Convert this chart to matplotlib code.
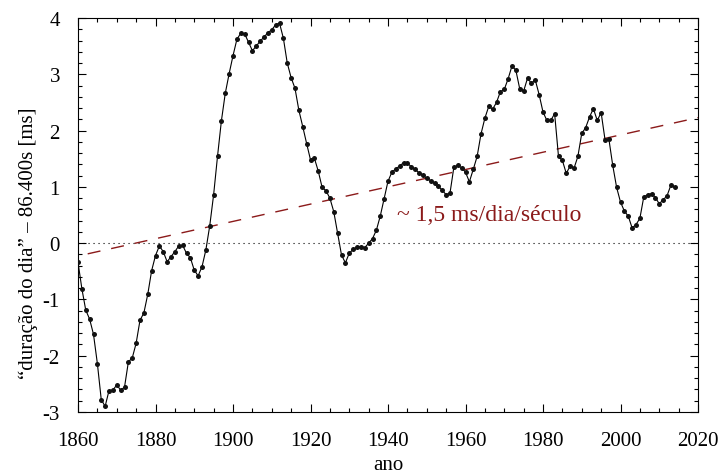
import matplotlib
matplotlib.use("Agg")
import matplotlib.pyplot as plt
from matplotlib.ticker import MultipleLocator
import numpy as np

# dados: excesso da duracao do dia (ms), anual
anos = np.arange(1860, 2015)
lod = [
    -0.34, -0.81, -1.19, -1.35, -1.62, -2.14, -2.78, -2.90, -2.62, -2.61,   # 1860
    -2.52, -2.61, -2.56, -2.11, -2.04, -1.78, -1.37, -1.24, -0.91, -0.49,   # 1870
    -0.22, -0.05, -0.15, -0.33, -0.24, -0.15, -0.05, -0.04, -0.18, -0.26,   # 1880
    -0.48, -0.58, -0.42, -0.12, 0.31, 0.86, 1.54, 2.17, 2.66, 3.01,         # 1890
    3.33, 3.62, 3.73, 3.72, 3.57, 3.42, 3.50, 3.59, 3.66, 3.74,             # 1900
    3.79, 3.88, 3.91, 3.64, 3.20, 2.94, 2.75, 2.36, 2.07, 1.77,             # 1910
    1.48, 1.51, 1.28, 0.99, 0.93, 0.80, 0.56, 0.18, -0.21, -0.35,           # 1920
    -0.18, -0.11, -0.07, -0.06, -0.08, 0.00, 0.08, 0.23, 0.48, 0.79,        # 1930
    1.10, 1.26, 1.32, 1.37, 1.43, 1.42, 1.36, 1.31, 1.25, 1.21,             # 1940
    1.15, 1.11, 1.07, 1.01, 0.94, 0.86, 0.89, 1.35, 1.38, 1.34,             # 1950
    1.26, 1.09, 1.31, 1.54, 1.94, 2.22, 2.43, 2.38, 2.50, 2.69,             # 1960
    2.73, 2.92, 3.15, 3.07, 2.74, 2.70, 2.93, 2.84, 2.90, 2.64,             # 1970
    2.33, 2.18, 2.18, 2.30, 1.54, 1.47, 1.24, 1.37, 1.33, 1.54,             # 1980
    1.95, 2.05, 2.24, 2.39, 2.18, 2.32, 1.84, 1.85, 1.38, 0.99,             # 1990
    0.73, 0.57, 0.48, 0.27, 0.33, 0.44, 0.82, 0.86, 0.88, 0.81,             # 2000
    0.70, 0.77, 0.84, 1.03, 0.99,                                           # 2010
]

# tendencia ~1,5 ms/dia/seculo
trend_x = [1862.5, 2020]
trend_y = [-0.19, 2.23]

xticks = [1860, 1880, 1900, 1920, 1940, 1960, 1980, 2000, 2020]
yticks = [-3, -2, -1, 0, 1, 2, 3, 4]

plt.rcParams['font.family'] = ['Liberation Serif', 'DejaVu Serif']

fig = plt.figure(figsize=(7.2, 4.77), dpi=100)
ax = fig.add_axes([78/720, 1 - 413/477, 620/720, 394/477])

darkred = '#8b1a1a'

ax.axhline(0, color='black', lw=0.8, linestyle=(0, (1, 3.5)), zorder=1)
ax.plot(trend_x, trend_y, color=darkred, lw=1.0, linestyle=(0, (9.4, 7.9)), zorder=2)
ax.plot(anos, lod, '-', color='black', lw=0.8, zorder=3)
ax.plot(anos, lod, 'o', color='#111111', ms=3.6, mew=0, zorder=4)

ax.text(1942.2, 0.41, '~ 1,5 ms/dia/século', color=darkred, fontsize=17,
        ha='left', va='baseline')

ax.set_xlim(1860, 2020)
ax.set_ylim(-3, 4)
ax.set_xticks(xticks)
ax.set_yticks(yticks)
ax.set_yticklabels([str(v) for v in yticks])
ax.xaxis.set_minor_locator(MultipleLocator(5))
ax.yaxis.set_minor_locator(MultipleLocator(0.2))
ax.tick_params(which='both', direction='in', top=True, right=True, labelsize=15)
ax.tick_params(which='major', length=5.8, width=0.8)
ax.tick_params(which='minor', length=3.1, width=0.8)
ax.tick_params(axis='x', pad=14)
ax.tick_params(axis='y', pad=13)
for s in ax.spines.values():
    s.set_linewidth(0.8)

ax.set_xlabel('ano', fontsize=15, labelpad=3)
ax.set_ylabel('“duração do dia” – 86.400s [ms]', fontsize=15)
ax.yaxis.set_label_coords(-0.065, 0.43)

fig.savefig('out.png', dpi=100)
